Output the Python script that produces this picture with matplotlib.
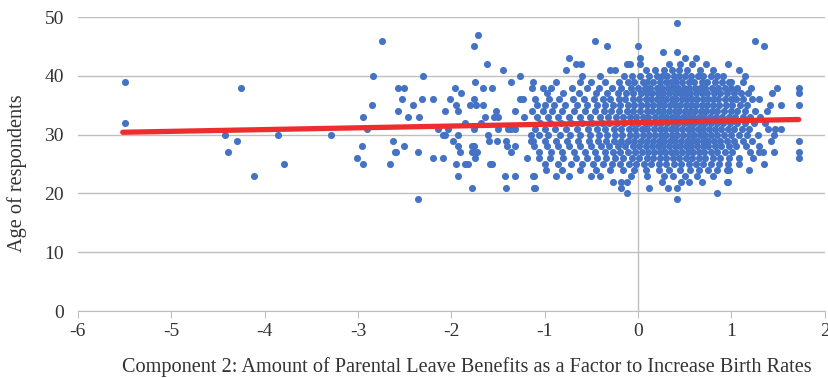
import numpy as np
import matplotlib.pyplot as plt

# x values (component 2 scores) for each age
ages_x = {
    49: [0.42],
    47: [-1.72],
    46: [-2.74, -0.46, 1.25],
    45: [-1.76, -0.33, 0.0, 1.35],
    44: [0.27, 0.42],
    43: [-0.74, 0.02, 0.5, 0.62],
    42: [-1.62, -0.67, -0.61, -0.12, -0.09, 0.02, 0.33, 0.45, 0.58, 0.73, 0.96],
    41: [-1.45, -0.77, -0.30, -0.25, 0.08, 0.18, 0.28, 0.36, 0.44, 0.52, 0.66, 0.8, 1.08],
    40: [-2.84, -2.30, -1.27, -0.60, -0.41, -0.15, -0.07, 0.02, 0.12, 0.2, 0.26, 0.31,
         0.38, 0.44, 0.5, 0.57, 0.64, 0.7, 0.78, 0.84, 0.91, 1.14],
    39: [-5.5, -1.75, -1.36, -1.13, -0.88, -0.62, -0.5, -0.35, -0.2, -0.11, -0.04, 0.05, 0.1,
         0.16, 0.23, 0.3, 0.35, 0.41, 0.47, 0.54, 0.6, 0.68, 0.74, 0.82, 0.9, 0.97, 1.0, 1.12],
    38: [-4.25, -2.57, -2.51, -1.96, -1.66, -1.56, -1.14, -1.02, -0.93, -0.71, -0.55, -0.42,
         -0.28, -0.18, -0.08, 0.0, 0.07, 0.13, 0.2, 0.26, 0.32, 0.37, 0.43, 0.49, 0.55, 0.61,
         0.66, 0.72, 0.79, 0.86, 0.93, 1.0, 1.06, 1.21, 1.49, 1.72],
    37: [-1.90, -0.98, -0.8, -0.63, -0.45, -0.33, -0.22, -0.13, -0.05, 0.03, 0.09, 0.15,
         0.21, 0.27, 0.33, 0.39, 0.45, 0.5, 0.56, 0.62, 0.68, 0.74, 0.81, 0.88, 0.95, 1.03,
         1.1, 1.18, 1.43, 1.72],
    36: [-2.53, -2.31, -2.20, -2.01, -1.76, -1.27, -1.23, -1.10, -0.95, -0.85, -0.7, -0.58,
         -0.47, -0.38, -0.3, -0.21, -0.14, -0.06, 0.01, 0.08, 0.14, 0.2, 0.25, 0.3, 0.36,
         0.41, 0.47, 0.52, 0.58, 0.63, 0.69, 0.75, 0.8, 0.86, 0.93, 0.99, 1.05, 1.12, 1.22, 1.3],
    35: [-2.85, -2.41, -1.95, -1.80, -1.74, -1.66, -1.08, -1.0, -0.9, -0.78, -0.66, -0.55,
         -0.44, -0.36, -0.27, -0.19, -0.11, -0.04, 0.03, 0.1, 0.16, 0.22, 0.28, 0.34, 0.4,
         0.45, 0.51, 0.57, 0.62, 0.68, 0.74, 0.8, 0.87, 0.94, 1.01, 1.09, 1.17, 1.41, 1.53, 1.72],
    34: [-2.57, -2.07, -1.93, -1.52, -1.32, -1.14, -1.02, -0.92, -0.81, -0.69, -0.57, -0.46,
         -0.37, -0.29, -0.2, -0.12, -0.05, 0.02, 0.09, 0.15, 0.21, 0.27, 0.33, 0.39, 0.44,
         0.5, 0.56, 0.61, 0.67, 0.73, 0.79, 0.85, 0.92, 0.99, 1.06, 1.15, 1.25, 1.38],
    33: [-2.95, -2.46, -2.35, -1.64, -1.54, -1.50, -1.22, -1.08, -0.97, -0.86, -0.74, -0.62,
         -0.52, -0.41, -0.32, -0.24, -0.16, -0.09, -0.02, 0.05, 0.11, 0.18, 0.24, 0.3, 0.36,
         0.42, 0.48, 0.53, 0.59, 0.65, 0.71, 0.77, 0.83, 0.9, 0.97, 1.04, 1.12, 1.2, 1.31],
    32: [-5.5, -1.85, -1.68, -1.05, -0.94, -0.83, -0.72, -0.6, -0.49, -0.39, -0.31, -0.23,
         -0.15, -0.07, 0.0, 0.07, 0.13, 0.19, 0.25, 0.31, 0.37, 0.43, 0.49, 0.55, 0.6, 0.66,
         0.72, 0.78, 0.84, 0.91, 0.98, 1.06, 1.14, 1.24, 1.36],
    31: [-2.90, -2.14, -2.04, -1.76, -1.50, -1.39, -1.36, -1.32, -1.10, -1.0, -0.89, -0.77,
         -0.65, -0.54, -0.44, -0.35, -0.26, -0.18, -0.1, -0.03, 0.04, 0.1, 0.17, 0.23, 0.29,
         0.35, 0.41, 0.47, 0.53, 0.58, 0.64, 0.7, 0.76, 0.82, 0.89, 0.96, 1.03, 1.11, 1.19,
         1.39, 1.47, 1.53],
    30: [-4.43, -3.86, -3.29, -2.09, -2.07, -1.93, -1.61, -1.15, -1.06, -0.96, -0.84, -0.73,
         -0.62, -0.52, -0.42, -0.33, -0.25, -0.17, -0.09, -0.02, 0.05, 0.12, 0.18, 0.24, 0.3,
         0.36, 0.42, 0.48, 0.54, 0.6, 0.66, 0.72, 0.78, 0.85, 0.92, 1.0, 1.08, 1.17, 1.28, 1.46],
    29: [-4.30, -2.63, -1.98, -1.60, -1.51, -1.41, -1.15, -1.13, -1.0, -0.88, -0.76, -0.64,
         -0.53, -0.43, -0.34, -0.26, -0.18, -0.11, -0.04, 0.03, 0.09, 0.16, 0.22, 0.28, 0.34,
         0.4, 0.46, 0.52, 0.58, 0.63, 0.69, 0.75, 0.81, 0.88, 0.95, 1.03, 1.12, 1.22, 1.42, 1.72],
    28: [-2.96, -2.51, -1.93, -1.78, -1.76, -1.40, -1.32, -1.11, -0.98, -0.86, -0.74, -0.62,
         -0.5, -0.4, -0.31, -0.22, -0.14, -0.06, 0.01, 0.08, 0.15, 0.21, 0.27, 0.33, 0.39,
         0.45, 0.51, 0.57, 0.63, 0.69, 0.75, 0.82, 0.89, 0.97, 1.05, 1.16, 1.3],
    27: [-4.39, -2.60, -2.59, -2.36, -1.91, -1.78, -1.73, -1.36, -1.06, -0.93, -0.81, -0.69,
         -0.57, -0.46, -0.36, -0.27, -0.19, -0.11, -0.03, 0.04, 0.11, 0.17, 0.23, 0.29, 0.35,
         0.41, 0.47, 0.53, 0.59, 0.65, 0.71, 0.78, 0.85, 0.93, 1.01, 1.2, 1.29, 1.34, 1.46, 1.72],
    26: [-3.01, -2.20, -2.09, -1.75, -1.19, -1.06, -0.94, -0.8, -0.67, -0.55, -0.44, -0.34,
         -0.25, -0.16, -0.07, 0.01, 0.09, 0.16, 0.23, 0.3, 0.37, 0.44, 0.51, 0.58, 0.65,
         0.72, 0.8, 0.88, 0.97, 1.08, 1.23, 1.72],
    25: [-3.79, -2.95, -2.66, -1.95, -1.85, -1.82, -1.59, -1.56, -1.0, -0.86, -0.72, -0.6,
         -0.48, -0.38, -0.28, -0.19, -0.1, -0.02, 0.06, 0.14, 0.22, 0.3, 0.38, 0.46, 0.54,
         0.62, 0.7, 0.78, 0.87, 0.96, 1.08, 1.35],
    24: [-0.99, -0.81, -0.62, -0.45, -0.3, -0.16, -0.04, 0.08, 0.22, 0.33, 0.45, 0.56, 0.65,
         0.75, 0.84, 0.95, 0.97, 1.19],
    23: [-4.11, -1.93, -1.43, -1.32, -1.13, -1.12, -0.88, -0.74, -0.51, -0.41, -0.08, 0.1,
         0.28, 0.37, 0.5, 0.63, 0.8],
    22: [-0.27, -0.18, -0.12, 0.26, 0.46, 0.54, 0.68, 0.95, 0.96],
    21: [-1.78, -1.41, -1.11, -1.10, -0.18, 0.12, 0.32, 0.42],
    20: [-0.12, 0.84],
    19: [-2.36, 0.42],
}

# linear trend line
trend_x = [-5.52, 1.72]
trend_slope = 0.30
trend_intercept = 32.06

xs = []
ys = []
for age, vals in ages_x.items():
    xs += vals
    ys += [age] * len(vals)

plt.rcParams['axes.unicode_minus'] = False
serif = ['Liberation Serif', 'DejaVu Serif']

fig = plt.figure(figsize=(8.29, 3.78), dpi=100)
ax = fig.add_axes([0.094, 0.177, 0.901, 0.778])

ax.scatter(xs, ys, s=26, color='#4472C4', zorder=3, linewidths=0)
tx = np.array(trend_x)
ax.plot(tx, trend_slope * tx + trend_intercept, color='#EE2E2E', lw=3.8,
        solid_capstyle='round', zorder=4)

ax.set_xlim(-6, 2)
ax.set_ylim(0, 50)
ax.set_xticks(range(-6, 3))
ax.set_yticks(range(0, 51, 10))
ax.grid(axis='y', color='#BFBFBF', lw=1)
ax.set_axisbelow(True)
ax.axvline(0, color='#BFBFBF', lw=1, zorder=1)
for s in ['top', 'right', 'left']:
    ax.spines[s].set_visible(False)
ax.spines['bottom'].set_color('#BFBFBF')
ax.tick_params(axis='x', color='#BFBFBF', length=5, labelsize=14, labelcolor='#333333')
ax.tick_params(axis='y', length=0, labelsize=14, labelcolor='#333333', pad=10)
for lab in ax.get_xticklabels() + ax.get_yticklabels():
    lab.set_family(serif)

ax.set_xlabel('Component 2: Amount of Parental Leave Benefits as a Factor to Increase Birth Rates',
              fontsize=14.6, color='#333333', family=serif)
ax.xaxis.set_label_coords(0.52, -0.155)
ax.set_ylabel('Age of respondents', fontsize=14.6, color='#333333', family=serif)
ax.yaxis.set_label_coords(-0.068, 0.47)

fig.savefig('out.png', dpi=100)
